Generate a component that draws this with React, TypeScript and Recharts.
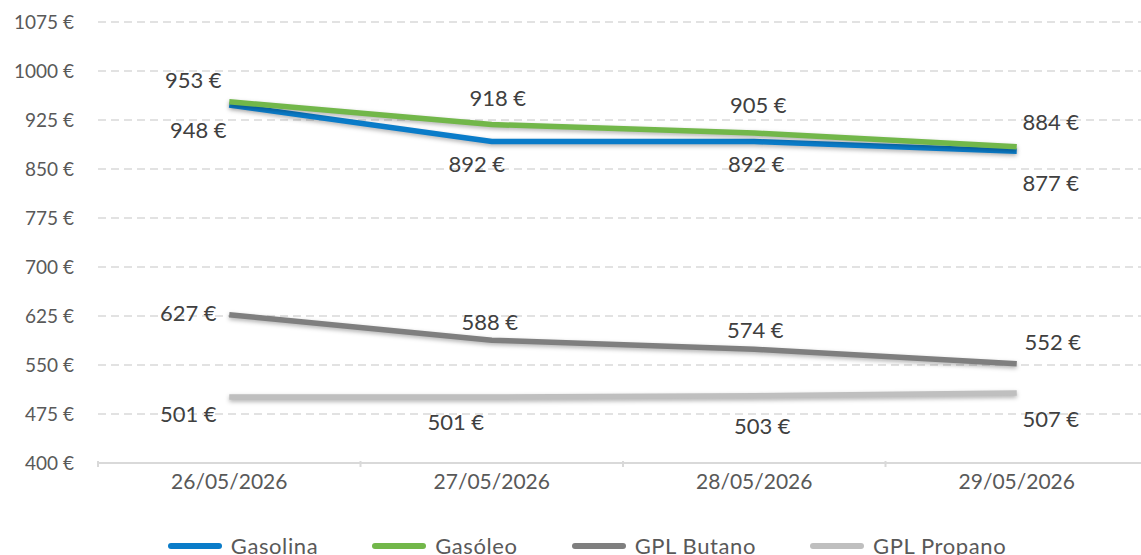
import React from 'react'
import { LineChart, Line, XAxis, YAxis, CartesianGrid, Legend, LabelList } from 'recharts'

const dates = ['26/05/2026', '27/05/2026', '28/05/2026', '29/05/2026']
const gasolina = [948, 892, 892, 877]
const gasoleo = [953, 918, 905, 884]
const gplButano = [627, 588, 574, 552]
const gplPropano = [501, 501, 503, 507]
const yTicks = [400, 475, 550, 625, 700, 775, 850, 925, 1000, 1075]

const data = dates.map((d, i) => ({
  date: d,
  gasolina: gasolina[i],
  gasoleo: gasoleo[i],
  butano: gplButano[i],
  propano: gplPropano[i],
}))

const FONT = 'Lato, "Noto Sans", sans-serif'
const BAND = 262.5

// label nudges (dx, dy) per point, like the Excel placement
const labelOffsets: Record<string, Array<[number, number]>> = {
  gasolina: [[-31, 25], [-15, 22], [2, 22], [34, 31]],
  gasoleo: [[-36, -22], [6, -27], [4, -29], [34, -25]],
  butano: [[-41, -2], [-2, -19], [1, -20], [36, -22]],
  propano: [[-41, 16], [-36, 24], [8, 30], [34, 25]],
}

const series = [
  { key: 'gasolina', name: 'Gasolina', color: '#0a7cc9' },
  { key: 'gasoleo', name: 'Gasóleo', color: '#72b74a' },
  { key: 'butano', name: 'GPL Butano', color: '#7f7f7f' },
  { key: 'propano', name: 'GPL Propano', color: '#bfbfbf' },
]

const makeLabel = (key: string) => (props: any) => {
  const { x, y, index, value } = props
  const [dx, dy] = labelOffsets[key][index] || [0, 0]
  return (
    <text
      x={x + dx}
      y={y + dy}
      textAnchor="middle"
      dominantBaseline="central"
      fontSize={22}
      fill="#404040"
      fontFamily={FONT}
    >
      {`${value} €`}
    </text>
  )
}

const XTick = (props: any) => {
  const { x, y, payload, index } = props
  const axisY = y - 10
  return (
    <g>
      <line x1={x - BAND / 2} x2={x - BAND / 2} y1={axisY} y2={axisY + 6} stroke="#d9d9d9" strokeWidth={2} />
      {index === dates.length - 1 && (
        <line x1={x + BAND / 2} x2={x + BAND / 2} y1={axisY} y2={axisY + 6} stroke="#d9d9d9" strokeWidth={2} />
      )}
      <text x={x} y={y + 18} textAnchor="middle" fontSize={21} fill="#595959" fontFamily={FONT}>
        {payload.value}
      </text>
    </g>
  )
}

const CustomLegend = () => (
  <div
    style={{
      display: 'flex',
      justifyContent: 'center',
      gap: 54,
      fontFamily: FONT,
      fontSize: 22,
      letterSpacing: 0.6,
      color: '#595959',
      paddingLeft: 26,
    }}
  >
    {series.map((s) => (
      <div key={s.key} style={{ display: 'flex', alignItems: 'center' }}>
        <span
          style={{
            display: 'inline-block',
            width: 54,
            height: 6,
            borderRadius: 3,
            background: s.color,
            marginRight: 9,
          }}
        />
        <span>{s.name}</span>
      </div>
    ))}
  </div>
)

export default function App() {
  return (
    <div style={{ position: 'absolute', left: 0, top: 0, width: 1141, height: 555, overflow: 'hidden', background: '#fff' }}>
      <style>{`.recharts-line-curve { filter: drop-shadow(0px 2px 2px rgba(0,0,0,0.3)); }`}</style>
      <LineChart width={1148} height={555} data={data} margin={{ top: 22, right: 0, left: 0, bottom: 0 }}>
        <CartesianGrid vertical={false} stroke="#d9d9d9" strokeDasharray="8 5" strokeWidth={1.5} />
        <XAxis
          dataKey="date"
          padding={{ left: BAND / 2, right: BAND / 2 }}
          height={52}
          axisLine={{ stroke: '#d9d9d9', strokeWidth: 2 }}
          tickLine={false}
          tick={<XTick />}
          interval={0}
        />
        <YAxis
          width={98}
          domain={[400, 1075]}
          ticks={yTicks}
          axisLine={false}
          tickLine={false}
          tickMargin={18}
          tickFormatter={(v: number) => `${v} €`}
          tick={{ fontSize: 19, fill: '#595959', fontFamily: FONT }}
        />
        {series.map((s) => (
          <Line
            key={s.key}
            dataKey={s.key}
            name={s.name}
            stroke={s.color}
            strokeWidth={5.5}
            dot={false}
            activeDot={false}
            isAnimationActive={false}
          >
            <LabelList dataKey={s.key} content={makeLabel(s.key)} />
          </Line>
        ))}
        <Legend verticalAlign="bottom" height={40} content={<CustomLegend />} wrapperStyle={{ bottom: -17 }} />
      </LineChart>
    </div>
  )
}
